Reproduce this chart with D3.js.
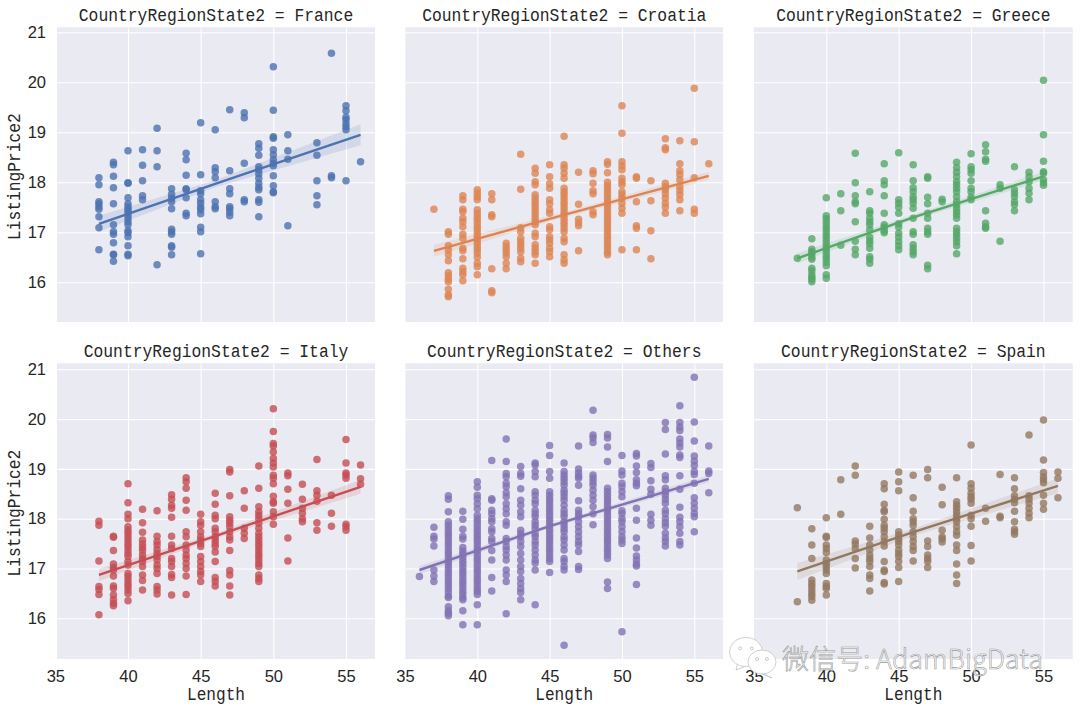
<!DOCTYPE html>
<html><head><meta charset="utf-8">
<script src="https://cdn.jsdelivr.net/npm/d3@7/dist/d3.min.js"></script>
<style>html,body{margin:0;padding:0;background:#fff}svg{display:block}</style></head>
<body><div id="c"></div>
<script>
const panelNames=["France","Croatia","Greece","Italy","Others","Spain"];
const colors=["#4C72B0","#DD8452","#55A868","#C44E52","#8172B3","#937860"];
const xTickLabels=[35,40,45,50,55];
const yTickLabels=[16,17,18,19,20,21];
const france={38:[18.09,17.95,17.61,17.57,17.51,17.46,17.31,17.09,16.65],
39:[18.4,18.35,18.12,17.89,17.57,17.15,17.01,16.96,16.79,16.56,16.55,16.42],
40:[18.63,17.99,17.98,17.69,17.57,17.51,17.46,17.41,17.35,17.28,17.21,17.15,17.03,16.99,16.91,16.73,16.56,16.53],
41:[18.65,18.34,18.03,17.73,17.65],42:[19.08,18.63,18.31,16.35],
43:[17.87,17.76,17.68,17.61,17.47,17.06,17.01,16.96,16.73,16.7,16.55],
44:[18.58,18.45,18.14,17.87,17.85,17.69,17.38,17.33],
45:[19.19,18.15,17.83,17.77,17.65,17.58,17.5,17.45,17.37,17.1,17.01,16.57],
46:[19.05,18.29,18.21,18.09,17.61,17.51,17.47],
47:[19.45,18.23,17.87,17.77,17.51,17.47,17.4,17.33],
48:[19.39,19.29,18.38,17.65,17.61],
49:[18.77,18.68,18.54,18.31,18.25,18.17,18.08,17.98,17.9,17.85,17.65,17.6,17.31],
50:[20.31,19.44,18.91,18.88,18.65,18.55,18.45,18.38,18.33,18.13,17.93,17.81,17.79],
51:[18.95,18.63,18.46,17.13],53:[18.79,18.54,18.03,17.73,17.55],54:[20.58,18.13,18.09],
55:[19.53,19.43,19.3,19.25,19.17,19.11,19.05,18.03],56:[18.41]};
const croatia={37:[17.46],
38:[17.01,16.96,16.73,16.65,16.55,16.43,16.19,16.13,16.06,16.01,15.86,15.75,15.71],
39:[17.73,17.65,17.46,17.41,17.28,17.21,17.11,16.96,16.88,16.68,16.63,16.47,16.28,16.21,16.15,16.03],
40:[17.85,17.78,17.71,17.65,17.45,17.38,17.31,17.25,17.18,17.11,17.05,16.98,16.91,16.85,16.78,16.71,16.65,16.58,16.5,16.38,16.31,16.15],
41:[17.77,17.65,17.35,17.31,16.27,15.83,15.79],
42:[16.78,16.71,16.65,16.58,16.51,16.38,16.27],
43:[18.56,17.86,17.09,17.01,16.88,16.81,16.75,16.68,16.61,16.48,16.41],
44:[18.28,18.18,18.01,17.95,17.75,17.68,17.61,17.55,17.48,17.41,17.35,17.28,17.21,17.15,16.98,16.91,16.75,16.68,16.61,16.55,16.38],
45:[18.35,18.11,17.97,17.88,17.65,17.57,17.45,17.38,17.11,17.05,16.91,16.85,16.78,16.68,16.61,16.51],
46:[18.92,18.35,18.28,18.18,18.08,17.88,17.81,17.75,17.68,17.61,17.55,17.48,17.41,17.35,17.28,17.21,17.15,17.08,17.01,16.88,16.81,16.55,16.45,16.38],
47:[18.2,17.56,17.26,17.19,17.13,16.63],
48:[18.23,18.17,17.98,17.83,17.77,17.41,17.35],
49:[18.41,18.36,18.19,18,17.93,17.87,17.8,17.73,17.67,17.6,17.53,17.47,17.4,17.33,17.27,17.2,17.13,17.07,17,16.93,16.87,16.8,16.73,16.67,16.6,16.55],
50:[19.53,18.98,18.41,18.33,18.25,18.08,18.01,17.95,17.81,17.75,17.68,17.58,17.48,17.38,16.65],
51:[18.11,18.08,17.61,17.13,17.08,16.65],52:[18.03,17.63,17.03,16.47],
53:[18.87,18.69,18.65,17.98,17.91,17.85,17.77,17.68,17.58,17.5,17.38],
54:[18.83,18.37,18.23,18.15,18.05,17.91,17.83,17.75,17.65,17.43],
55:[19.88,18.81,18.09,17.46,17.38],56:[18.37]};
const greece={38:[16.48],
39:[16.87,16.66,16.61,16.57,16.5,16.46,16.28,16.23,16.15,16.1,16.06,16.01],
40:[17.69,17.33,17.27,17.2,17.13,17.07,17,16.93,16.87,16.8,16.73,16.67,16.6,16.53,16.47,16.4,16.33,16.15,16.08],
41:[17.77,17.43,16.74],
42:[18.58,17.99,17.73,17.61,17.57,17.21,16.82,16.66,16.55],
43:[17.81,17.43,17.38,17.28,17.21,17.15,17.05,16.9,16.83,16.77,16.68,16.51,16.46,16.38],
44:[18.37,18.03,17.95,17.73,17.38,17.15,17.1,17.03,16.99],
45:[18.59,17.65,17.58,17.5,17.38,17.17,17.1,16.98,16.9,16.81,16.73,16.65],
46:[18.35,18.03,17.89,17.81,17.71,17.65,17.58,17.48,17.28,17.01,16.96,16.75,16.68,16.61,16.55],
47:[18.11,18.08,17.7,17.57,17.38,17.28,17.08,17.01,16.96,16.34,16.27],
48:[17.66,17.61],
49:[18.4,18.29,18.2,18.11,18.01,17.95,17.88,17.81,17.71,17.61,17.55,17.48,17.41,17.35,17.28,17.08,17.01,16.95,16.88,16.81,16.73,16.57],
50:[18.57,18.31,18.25,18.18,18.03,17.88,17.81,17.7,17.65],
51:[18.75,18.61,18.46,18.42,17.43,17.18,17.11,17.08],52:[17.95,17.88,16.82],
53:[18.31,17.85,17.78,17.71,17.61,17.55,17.43],
54:[18.2,18.11,18.01,17.88,17.78,17.65],
55:[20.04,18.95,18.42,18.21,18.18,18.05,17.99,17.94]};
const italy={38:[17.95,17.87,17.15,16.64,16.58,16.48,16.07],
39:[17.65,17.63,17.36,17.09,17.02,16.97,16.85,16.65,16.6,16.47,16.37,16.3,16.25],
40:[18.7,18.32,18.09,18,17.84,17.77,17.71,17.64,17.57,17.5,17.44,17.37,17.3,17.24,17.14,17.07,16.9,16.84,16.77,16.7,16.64,16.57,16.5,16.35],
41:[18.19,17.92,17.73,17.57,17.49,17.42,17.36,17.27,17.2,17.14,17.04,16.87,16.76,16.57],
42:[18.16,17.65,17.54,17.47,17.38,17.3,17.24,17.17,17.07,17,16.9,16.64,16.57,16.49],
43:[18.48,18.39,18.27,18.21,18.03,17.65,17.47,17.4,17.2,17.14,17.04,16.88,16.82,16.47],
44:[18.82,18.74,18.61,18.37,18.17,17.74,17.64,17.47,17.37,17.27,17.2,17.1,17,16.85,16.48],
45:[18.09,17.94,17.87,17.74,17.64,17.57,17.5,17.44,17.24,17.14,17.04,16.94,16.87,16.74],
46:[18.51,18.29,18.07,18,17.81,17.74,17.64,17.57,17.5,17.44,17.33,17.14,16.82,16.74,16.65],
47:[18.99,18.94,18.46,18.04,17.97,17.91,17.84,17.74,17.64,17.57,17.36,16.96,16.87,16.65,16.47],
48:[18.56,18.21,17.81,17.71,17.6],
49:[19.06,18.61,18.24,18.14,18.07,18,17.91,17.81,17.71,17.64,17.57,17.5,17.44,17.37,17.3,17.24,17.17,17.1,17.04,16.87,16.8,16.74],
50:[20.21,19.75,19.51,19.46,19.34,19.21,19.12,19.04,18.87,18.81,18.7,18.45,18.34,18.31,18.14,18.04,17.89],
51:[18.92,18.86,18.59,18.31,17.61,17.15],52:[18.69,18.39,18.21,18.11,18,17.94],
53:[19.19,18.56,18.47,18.35,17.92,17.77],54:[18.47,18.11,17.85],
55:[19.59,19.12,18.92,18.88,18.81,17.89,17.84,17.77],56:[19.08,18.8,18.69]};
const others={36:[16.84],37:[17.83,17.65,17.59,17.45,16.97,16.85,16.74],
38:[18.46,18.39,18.14,17.94,17.87,17.8,17.73,17.67,17.6,17.53,17.47,17.4,17.33,17.27,17.2,17.13,17.07,17,16.93,16.87,16.8,16.73,16.67,16.6,16.53,16.45,16.42,16.23,16.15,16.1,16.05],
39:[18.15,17.99,17.79,17.65,17.59,17.42,17.35,17.29,17.22,17.15,17.09,17.02,16.95,16.89,16.82,16.75,16.69,16.62,16.55,16.49,16.42,16.37,16.15,15.87],
40:[18.74,18.63,18.47,18.4,18.3,18.2,18.07,18,17.94,17.87,17.8,17.74,17.67,17.6,17.54,17.47,17.4,17.34,17.27,17.2,17.14,17.07,17,16.94,16.87,16.8,16.74,16.67,16.6,16.54,16.48,16.27,15.87],
41:[19.17,18.4,18.37,18.17,18.1,18,17.94,17.8,17.74,17.6,17.54,17.36,17.17,16.82,16.55],
42:[19.6,19.15,18.91,18.84,18.71,18.64,18.52,18.44,18.3,18.2,18.1,17.94,17.87,17.6,17.54,17.44,17.37,17.27,17.17,16.97,16.87,16.74,16.09],
43:[19.05,18.91,18.85,18.6,18.37,18.27,18.14,18.04,17.77,17.7,17.64,17.54,17.44,17.3,17.17,17.04,16.94,16.8,16.7,16.6,16.52,16.37],
44:[19.12,19.08,18.95,18.84,18.54,18.47,18.37,18.3,18.17,18.1,18.04,17.94,17.87,17.8,17.7,17.64,17.54,17.47,17.37,17.27,17.17,17.11,16.97,16.27],
45:[19.47,19.27,18.95,18.81,18.54,18.47,18.4,18.34,18.27,18.2,18.14,18.07,18,17.94,17.87,17.8,17.74,17.67,17.6,17.54,17.47,17.4,17.34,17.27,17.2,17.14,16.92],
46:[19.12,18.95,18.88,18.81,18.74,18.67,18.57,18.51,18.44,18.37,18.27,18.17,18.1,18.04,17.94,17.87,17.8,17.74,17.64,17.57,17.47,17.37,17.2,17.14,17.04,16.97,15.46],
47:[19.46,19,18.92,18.85,18.81,18.67,18.36,18.17,18.1,18.04,17.94,17.84,17.74,17.64,17.54,17.47,17.34,17.04,16.98],
48:[20.18,19.68,19.62,19.53,18.88,18.81,18.74,18.67,18.57,18.47,18.37,18.24,18.1,17.88],
49:[19.69,19.62,19.44,19.15,18.61,18.54,18.47,18.4,18.34,18.27,18.2,18.14,18.07,18,17.94,17.87,17.8,17.74,17.67,17.6,17.54,17.47,17.4,17.34,17.27,17.2,16.73,16.6],
50:[19.27,18.96,18.88,18.71,18.64,18.54,18.44,18.16,18.1,18,17.94,17.84,17.74,17.64,17.57,17.5,15.73],
51:[19.31,19.26,19.06,18.93,18.78,18.71,18.66,18.21,17.97,17.61,17.41,17.25,17.17,17.09,17.05,16.68],
52:[19.11,19.03,18.76,18.59,18.49,18.09,17.97,17.87],
53:[19.93,19.79,19.3,18.86,18.78,18.61,18.54,18.47,18.39,18.31,18.17,18.1,18,17.92,17.85,17.71,17.61,17.54,17.45],
54:[20.27,19.93,19.84,19.77,19.6,19.52,19.44,19.28,19.23,18.86,18.59,18.23,18.03,17.94,17.84,17.71,17.54,17.47],
55:[20.84,19.94,19.56,19.26,19.16,19.07,18.95,18.89,18.71,18.42,18.31,18.21,18.11,18.04,17.74],
56:[19.46,18.96,18.91,18.52]};
const spain={38:[18.22,16.33],
39:[17.8,17.47,17.2,16.77,16.7,16.64,16.57,16.5,16.44,16.36],
40:[18.02,17.65,17.62,17.47,17.4,17.32,17.17,17.1,17.04,16.97,16.9,16.7,16.64,16.6,16.47],
41:[18.78,18.09],42:[19.06,18.87,17.55,17.49,17.4,17.2,17.01],
43:[17.85,17.61,17.47,17.37,17.27,17.2,17.14,17.04,16.87,16.8,16.55],
44:[18.7,18.6,18.29,18.17,18.14,17.99,17.87,17.81,17.74,17.64,17.54,17.45,17.14,16.97,16.94,16.72,16.69],
45:[18.94,18.74,18.56,17.74,17.67,17.6,17.54,17.47,17.37,17.3,17.24,17.14,17.02,16.74],
46:[18.87,18.42,18.15,18,17.94,17.87,17.74,17.64,17.54,17.44,17.36,17.15],
47:[18.99,18.82,17.55,17.44,17.27,17.2,17.14,17.02],
48:[18.63,18.28,17.77,17.64,17.59,17.53],
49:[18.82,18.34,18.27,18.21,18.14,18.07,18,17.94,17.84,17.74,17.67,17.47,17.36,17.09,16.87,16.7],
50:[19.48,18.7,18.61,18.51,18.44,18.39,18.31,18.07,18,17.85,17.46,17.15],
51:[18.21,17.95],52:[18.89,18.05,18.02],
53:[18.82,18.6,18.46,18.39,18.32,18.15,17.94,17.79,17.74,17.69],
54:[19.68,18.46,18.39,18.31,18.21,18.11,18.02],
55:[19.98,19.18,18.93,18.84,18.78,18.72,18.47,18.31,18.19],
56:[18.94,18.81,18.42]};
const panelData=[france,croatia,greece,italy,others,spain];
// regression fit: [x at start, x at middle, x at end]
const fitX=[[38,46,56],[37,46,56],[38,46,55],[38,46,56],[36,45,56],[38,46,56]];
const fitY=[[17.17,17.97,18.95],[16.63,17.35,18.13],[16.48,17.3,18.12],[16.87,17.65,18.64],[16.97,17.85,18.8],[16.94,17.73,18.66]];
const ciHalf=[[.16,.07,.21],[.12,.05,.08],[.1,.05,.09],[.12,.05,.14],[.08,.04,.07],[.17,.07,.15]];

const W=1080,H=711;
const svg=d3.select("#c").append("svg").attr("width",W).attr("height",H);
const FONT="'Liberation Mono',monospace",TICKF="'Liberation Sans',sans-serif",INK="#262626";
const colX=[{l:57,r:375,a:128,b:346},{l:405.5,r:723,a:477.3,b:694.3},{l:754,r:1072.7,a:826.3,b:1043.5}];
const rowY=[{t:27.3,b:322,y16:282.3,y21:32.3},{t:363.3,b:659,y16:618.3,y21:369.3}];
const condensed=(sel,len)=>sel.attr("font-family",FONT).attr("font-size",18.5).attr("fill",INK)
  .attr("textLength",len).attr("lengthAdjust","spacingAndGlyphs");

panelNames.forEach((name,i)=>{
  const cx=colX[i%3],ry=rowY[Math.floor(i/3)],col=colors[i];
  const x=d3.scaleLinear().domain([40,55]).range([cx.a,cx.b]);
  const y=d3.scaleLinear().domain([16,21]).range([ry.y16,ry.y21]);
  const g=svg.append("g");
  g.append("rect").attr("x",cx.l).attr("y",ry.t).attr("width",cx.r-cx.l).attr("height",ry.b-ry.t).attr("fill","#EAEAF2");
  const gx=g.append("g").attr("transform",`translate(0,${ry.b})`)
    .call(d3.axisBottom(x).tickValues(xTickLabels.filter(v=>x(v)>=cx.l)).tickSize(-(ry.b-ry.t)).tickFormat(""));
  const gy=g.append("g").attr("transform",`translate(${cx.l},0)`)
    .call(d3.axisLeft(y).tickValues(yTickLabels).tickSize(-(cx.r-cx.l)).tickFormat(""));
  [gx,gy].forEach(a=>{a.select(".domain").remove();a.selectAll("line").attr("stroke","#fff").attr("stroke-width",1.1);});
  const pts=Object.entries(panelData[i]).flatMap(([k,vs])=>vs.map(v=>({x:+k,y:v})));
  g.append("g").selectAll("circle").data(pts).join("circle")
    .attr("cx",d=>x(d.x)).attr("cy",d=>y(d.y)).attr("r",3.75)
    .attr("fill",col).attr("fill-opacity",.8);
  const fit=fitX[i].map((v,j)=>({x:v,y:fitY[i][j],h:ciHalf[i][j]}));
  g.append("path").datum(fit).attr("fill",col).attr("fill-opacity",.15)
    .attr("d",d3.area().x(d=>x(d.x)).y0(d=>y(d.y-d.h)).y1(d=>y(d.y+d.h)));
  g.append("path").datum(fit).attr("fill","none").attr("stroke",col).attr("stroke-width",2.4)
    .attr("d",d3.line().x(d=>x(d.x)).y(d=>y(d.y)));
  const title="CountryRegionState2 = "+name;
  g.append("text").attr("x",(cx.l+cx.r)/2).attr("y",ry.t-6.5).attr("text-anchor","middle")
    .call(condensed,title.length*9.8).text(title);
  if(i%3===0){
    const a=g.append("g").attr("transform",`translate(${cx.l-10},0)`)
      .call(d3.axisLeft(y).tickValues(yTickLabels).tickSize(0).tickFormat(d3.format("d")));
    a.select(".domain").remove();
    a.selectAll("text").attr("font-family",TICKF).attr("font-size",16.5).attr("fill",INK).attr("x",-1);
    g.append("text").attr("transform",`translate(20,${(ry.t+ry.b)/2+2}) rotate(-90)`).attr("text-anchor","middle")
      .call(condensed,127).text("ListingPrice2");
  }
  if(i>=3){
    const a=g.append("g").attr("transform",`translate(0,${ry.b+8})`)
      .call(d3.axisBottom(x).tickValues(xTickLabels).tickSize(0).tickFormat(d3.format("d")));
    a.select(".domain").remove();
    a.selectAll("text").attr("font-family",TICKF).attr("font-size",16.5).attr("fill",INK);
    g.append("text").attr("x",(cx.l+cx.r)/2).attr("y",700).attr("text-anchor","middle")
      .call(condensed,58).text("Length");
  }
});

// watermark
const wm=svg.append("g");
const bubble=(cx,cy,rx,ry,tx,ty)=>{
  wm.append("path").attr("d",`M${cx-rx*.5},${cy+ry*.75} L${tx},${ty} L${cx+rx*.05},${cy+ry*.95} Z`).attr("fill","#fff").attr("stroke","#bbb").attr("stroke-width",.7);
  wm.append("ellipse").attr("cx",cx).attr("cy",cy).attr("rx",rx).attr("ry",ry).attr("fill","#fff").attr("stroke","#c4c4c4").attr("stroke-width",.8);
  wm.append("circle").attr("cx",cx-rx*.35).attr("cy",cy-ry*.25).attr("r",1.5).attr("fill","none").attr("stroke","#aaa").attr("stroke-width",.6);
  wm.append("circle").attr("cx",cx+rx*.35).attr("cy",cy-ry*.25).attr("r",1.5).attr("fill","none").attr("stroke","#aaa").attr("stroke-width",.6);
};
bubble(746,652,16.5,14.5,736,670);
bubble(762,662,14,12,772,678);
wm.append("text").attr("x",782).attr("y",669).attr("font-family","'Noto Sans CJK SC',sans-serif").attr("font-size",27).attr("font-weight",300)
  .attr("fill","#fff").attr("fill-opacity",.85).attr("stroke","#808080").attr("stroke-opacity",.8).attr("stroke-width",.6)
  .attr("textLength",261).attr("lengthAdjust","spacingAndGlyphs").text("微信号: AdamBigData");
</script></body></html>
